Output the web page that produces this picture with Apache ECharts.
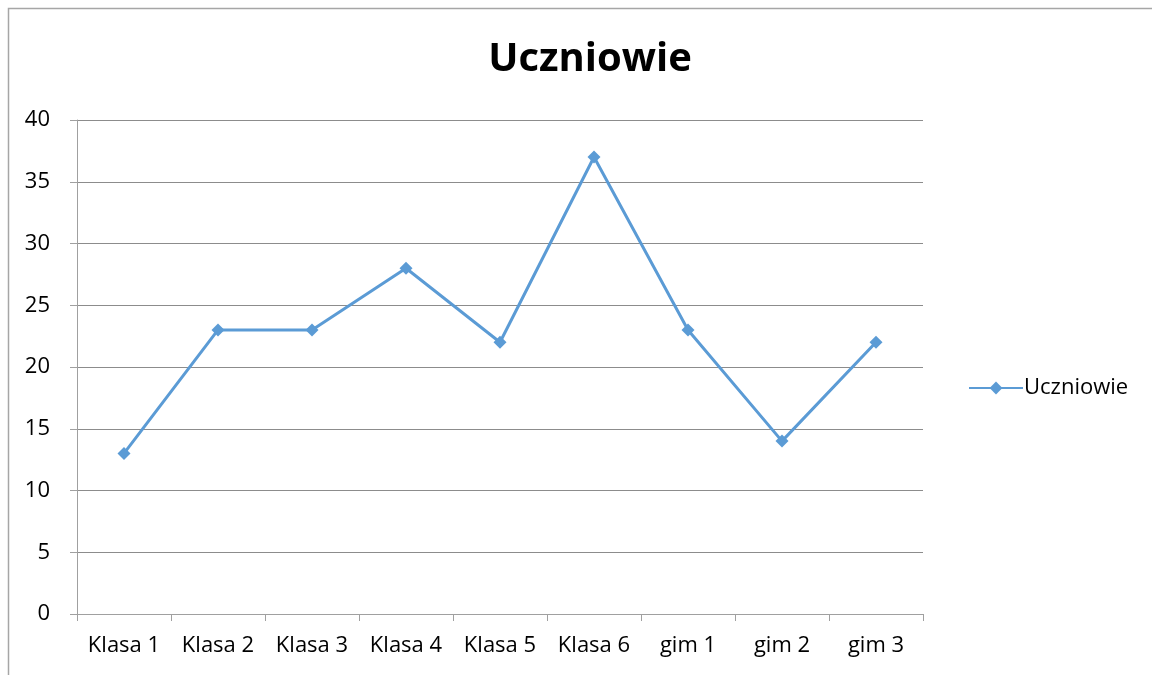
<!DOCTYPE html>
<html>
<head>
<meta charset="utf-8">
<script src="https://cdn.jsdelivr.net/npm/echarts@6/dist/echarts.min.js"></script>
<style>
  html, body { margin: 0; padding: 0; background: #fff; }
  #chart { width: 1152px; height: 675px; }
</style>
</head>
<body>
<div id="chart"></div>
<script>
// dane wykresu
const categories = ['Klasa 1', 'Klasa 2', 'Klasa 3', 'Klasa 4', 'Klasa 5', 'Klasa 6', 'gim 1', 'gim 2', 'gim 3']
const uczniowie = [13, 23, 23, 28, 22, 37, 23, 14, 22]
const seriesName = 'Uczniowie'
const chartTitle = 'Uczniowie'

const font = '"Open Sans", sans-serif'
const blue = '#5b9bd5'
const axisGray = '#a0a0a0'

const mychart = echarts.init(document.getElementById('chart'))
mychart.setOption({
  animation: false,
  title: {
    text: chartTitle,
    left: 585,
    textAlign: 'center',
    top: 35,
    textStyle: { fontFamily: font, fontSize: 40, fontWeight: 'bold', color: '#000' }
  },
  // ramka wykresu (lewa i górna krawędź)
  graphic: [
    {
      type: 'polyline',
      shape: { points: [[8.5, 675], [8.5, 8.5], [1152, 8.5]] },
      style: { stroke: '#a6a6a6', lineWidth: 1.5, fill: null }
    }
  ],
  legend: {
    left: 963,
    top: 372,
    itemWidth: 54,
    itemHeight: 16,
    itemGap: 4,
    textStyle: { fontFamily: font, fontSize: 22, color: '#000', padding: [0, 0, 0, -4] },
    data: [seriesName]
  },
  grid: {
    left: 77,
    right: 229,
    top: 120,
    bottom: 61,
    containLabel: false
  },
  xAxis: {
    type: 'category',
    data: categories,
    boundaryGap: true,
    axisLine: { lineStyle: { color: axisGray, width: 1 } },
    axisTick: { show: true, length: 7, lineStyle: { color: axisGray } },
    axisLabel: { fontFamily: font, fontSize: 22, color: '#000', margin: 21 }
  },
  yAxis: {
    type: 'value',
    min: 0,
    max: 40,
    interval: 5,
    axisLine: { show: true, lineStyle: { color: axisGray, width: 1 } },
    axisTick: { show: true, length: 7, lineStyle: { color: axisGray } },
    axisLabel: { fontFamily: font, fontSize: 22, color: '#000', margin: 27 },
    splitLine: { lineStyle: { color: '#8c8c8c', width: 1 } }
  },
  series: [
    {
      name: seriesName,
      type: 'line',
      data: uczniowie,
      symbol: 'diamond',
      symbolSize: 13,
      lineStyle: { color: blue, width: 3 },
      itemStyle: { color: blue }
    }
  ]
})
</script>
</body>
</html>
